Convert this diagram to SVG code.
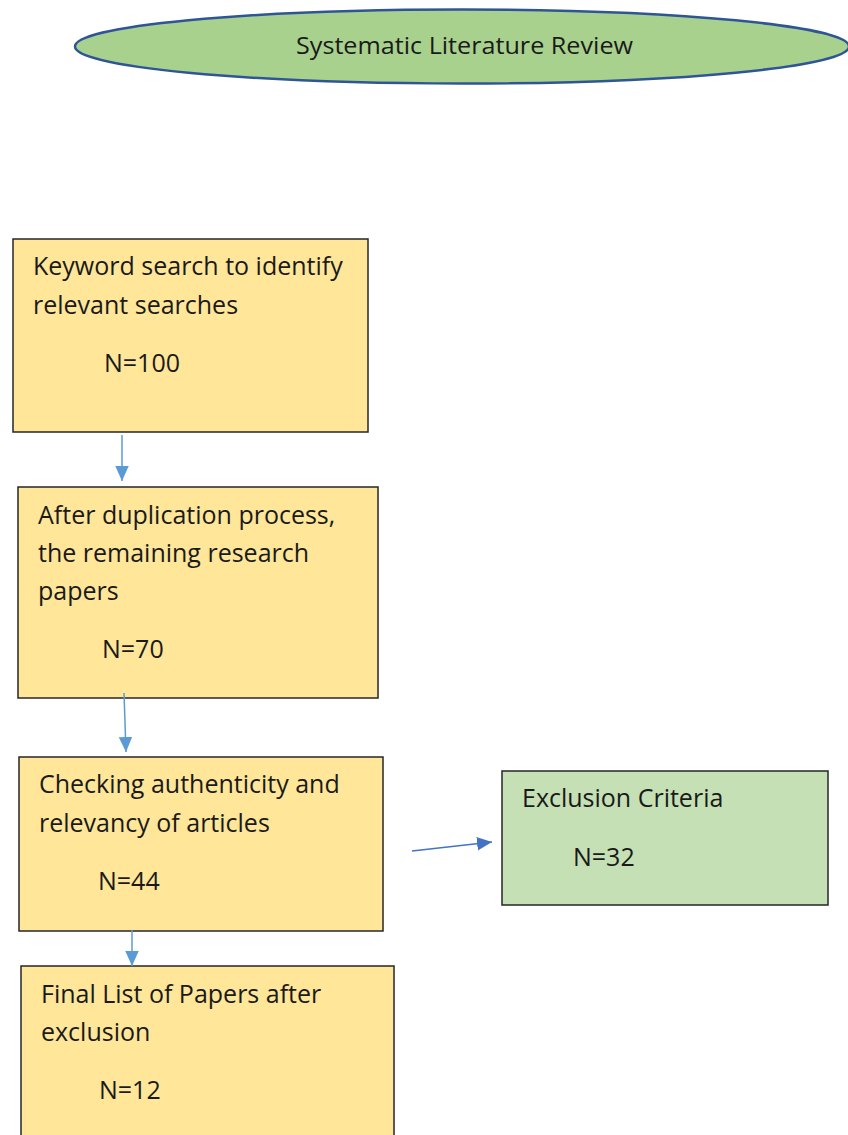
<svg xmlns="http://www.w3.org/2000/svg" width="848" height="1135" viewBox="0 0 848 1135">
  <defs>
    <marker id="ah" viewBox="0 0 10 10" refX="10" refY="5" markerWidth="15" markerHeight="15" markerUnits="userSpaceOnUse" orient="auto">
      <path d="M0,0.5 L10,5 L0,9.5 z" fill="#5b9bd5"/>
    </marker>
    <marker id="ah2" viewBox="0 0 10 10" refX="10" refY="5" markerWidth="15" markerHeight="15" markerUnits="userSpaceOnUse" orient="auto">
      <path d="M0,0.5 L10,5 L0,9.5 z" fill="#4472c4"/>
    </marker>
    <style>
      .box { fill: #ffe699; stroke: #262626; stroke-width: 1.5; }
      .gbox { fill: #c5e0b4; stroke: #262626; stroke-width: 1.5; }
      .t { font-family: "Open Sans", "Liberation Sans", sans-serif; font-size: 25px; fill: #1a1a1a; }
      .title { font-family: "Open Sans", "Liberation Sans", sans-serif; font-size: 23px; fill: #1a1a1a; }
      .c { stroke: #5b9bd5; stroke-width: 1.5; fill: none; }
    </style>
  </defs>

  <g id="title">
    <ellipse cx="462" cy="46.5" rx="387" ry="37" fill="#a9d18e" stroke="#2f5597" stroke-width="2.5"/>
    <text class="title" x="296" y="54" textLength="337" lengthAdjust="spacingAndGlyphs">Systematic Literature Review</text>
  </g>

  <g id="keyword">
    <rect class="box" x="13" y="239" width="355" height="193"/>
    <text class="t" x="33" y="275">Keyword search to identify</text>
    <text class="t" x="33" y="314">relevant searches</text>
    <text class="t" x="104" y="372">N=100</text>
  </g>

  <g id="duplication">
    <rect class="box" x="18" y="487" width="360" height="211"/>
    <text class="t" x="38" y="524">After duplication process,</text>
    <text class="t" x="38" y="562">the remaining research</text>
    <text class="t" x="38" y="600">papers</text>
    <text class="t" x="102" y="658">N=70</text>
  </g>

  <g id="checking">
    <rect class="box" x="19" y="757" width="364" height="174"/>
    <text class="t" x="39" y="793">Checking authenticity and</text>
    <text class="t" x="39" y="832">relevancy of articles</text>
    <text class="t" x="98" y="890">N=44</text>
  </g>

  <g id="exclusion">
    <rect class="gbox" x="502" y="771" width="326" height="134"/>
    <text class="t" x="522" y="807">Exclusion Criteria</text>
    <text class="t" x="573" y="866">N=32</text>
  </g>

  <g id="final">
    <rect class="box" x="21" y="966" width="373" height="180"/>
    <text class="t" x="41" y="1003">Final List of Papers after</text>
    <text class="t" x="41" y="1041">exclusion</text>
    <text class="t" x="99" y="1099">N=12</text>
  </g>

  <g id="connectors">
    <line class="c" x1="122" y1="435" x2="122" y2="481" marker-end="url(#ah)"/>
    <line class="c" x1="124" y1="693" x2="126" y2="752" marker-end="url(#ah)"/>
    <line class="c" x1="132" y1="930" x2="132" y2="966" marker-end="url(#ah)"/>
    <line x1="412" y1="851" x2="492" y2="842" stroke="#4472c4" stroke-width="1.5" marker-end="url(#ah2)"/>
  </g>
</svg>
